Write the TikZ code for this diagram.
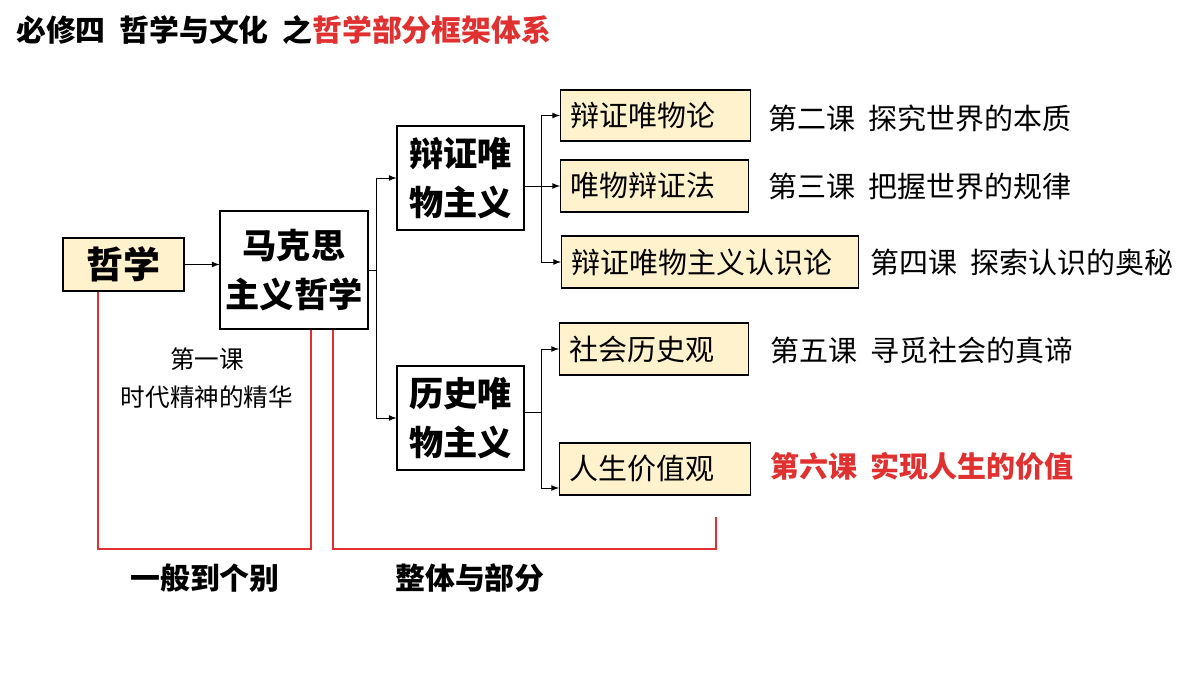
\documentclass[tikz,border=0pt]{standalone}
\usepackage{fontspec}
\setmainfont{Noto Sans CJK SC}
\usetikzlibrary{positioning}
\definecolor{pale}{HTML}{FFF2CC}
\definecolor{redline}{HTML}{E03030}
\tikzset{
  box/.style={draw, line width=0.6pt, inner sep=0pt, align=center},
  leaf/.style={box, fill=pale, anchor=west, font=\fontsize{16.5}{18}\selectfont},
  lesson/.style={anchor=west, font=\fontsize{16.5}{18}\selectfont},
  arr/.style={->, >=latex, line width=0.5pt}
}
\begin{document}
\begin{tikzpicture}[x=0.02cm, y=-0.02cm]
	\useasboundingbox (0,0) rectangle (1200,675);
	% Title
	\node[anchor=west, font=\fontsize{17}{19}\selectfont\bfseries] (title) at (10,30)
		{必修四\ \ 哲学与文化\ \ 之\textcolor{redline}{哲学部分框架体系}};

	% Main boxes
	\node[box, fill=pale, minimum width=2.42cm, minimum height=1.06cm, font=\fontsize{21}{23}\selectfont\bfseries] (phil) at (123.5,264.5) {哲学};
	\node[box, minimum width=2.96cm, minimum height=2.36cm, font=\fontsize{19.5}{28}\selectfont\bfseries] (marx) at (294,270) {马克思\\主义哲学};
	\node[box, minimum width=2.54cm, minimum height=2.08cm, font=\fontsize{19.5}{28}\selectfont\bfseries] (dial) at (460.5,178) {辩证唯\\物主义};
	\node[box, minimum width=2.54cm, minimum height=2.08cm, font=\fontsize{19.5}{28}\selectfont\bfseries] (hist) at (460.5,418) {历史唯\\物主义};

	% Leaf boxes
	\node[leaf, minimum width=3.8cm, minimum height=1.02cm, text width=3.4cm, align=left] (lun) at (560,115.5) {辩证唯物论};
	\node[leaf, minimum width=3.76cm, minimum height=1.04cm, text width=3.36cm, align=left] (fa) at (560,186) {唯物辩证法};
	\node[leaf, minimum width=5.94cm, minimum height=1.04cm, text width=5.54cm, align=left] (ren) at (561,262) {辩证唯物主义认识论};
	\node[leaf, minimum width=3.78cm, minimum height=1.04cm, text width=3.38cm, align=left] (she) at (559,349) {社会历史观};
	\node[leaf, minimum width=3.82cm, minimum height=1.04cm, text width=3.42cm, align=left] (rs) at (559,469) {人生价值观};

	% Lessons
	\node[lesson] (l2) at (762,118) {第二课\ \ 探究世界的本质};
	\node[lesson] (l3) at (762,187) {第三课\ \ 把握世界的规律};
	\node[lesson] (l4) at (864,262) {第四课\ \ 探索认识的奥秘};
	\node[lesson] (l5) at (764,350) {第五课\ \ 寻觅社会的真谛};
	\node[lesson, text=redline, font=\fontsize{16.5}{18}\selectfont\bfseries] (l6) at (764,466) {第六课\ \ 实现人生的价值};

	\node[align=center, font=\fontsize{14}{22}\selectfont] (l1) at (207,378) {第一课\\时代精神的精华};
	\node[font=\fontsize{17}{19}\selectfont\bfseries] (gen) at (205,578) {一般到个别};
	\node[font=\fontsize{17}{19}\selectfont\bfseries] (whole) at (470,578) {整体与部分};

	% Arrows
	\draw[arr] (phil) -- (marx.west |- phil);
	\coordinate (b1) at (376,270);
	\draw (marx.east |- b1) -- (b1);
	\draw[arr] (b1 |- dial) -- (dial);
	\draw (b1 |- dial) -- (b1 |- hist);
	\draw[arr] (b1 |- hist) -- (hist);

	\coordinate (b2) at (541,186);
	\draw[arr] (dial.east |- fa) -- (fa.west);
	\draw (b2 |- lun) -- (b2 |- ren);
	\draw[arr] (b2 |- lun) -- (lun.west);
	\draw[arr] (b2 |- ren) -- (ren.west);

	\coordinate (b3) at (541,412);
	\draw (hist.east |- b3) -- (b3);
	\draw (b3 |- she) -- ([yshift=-0.38cm]b3 |- rs);
	\draw[arr] (b3 |- she) -- (she.west);
	\draw[arr] ([yshift=-0.38cm]b3 |- rs) -- ([yshift=-0.38cm]rs.west);

	% Red brackets
	\draw[redline, line width=0.7pt] (phil.south -| 98,0) -- (98,549) -- (311,549) -- (marx.south -| 311,0);
	\draw[redline, line width=0.7pt] (marx.south -| 333,0) -- (333,549) -- (716,549) -- (716,517);
\end{tikzpicture}
\end{document}
